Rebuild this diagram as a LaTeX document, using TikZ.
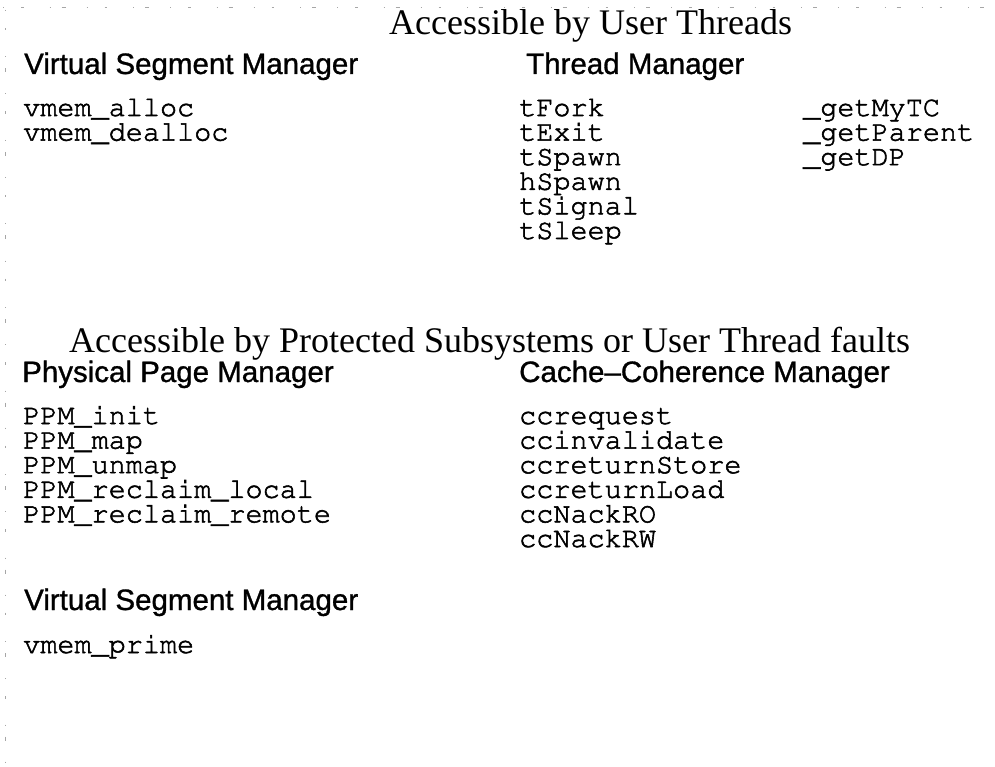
\documentclass[tikz,border=0pt]{standalone}
\usepackage[T1]{fontenc}
\usepackage{fontspec}
\setmainfont{Liberation Serif}
\newfontfamily\headfont{Liberation Sans}
% Courier (URW) for the routine names
\newcommand\routinefont{\fontencoding{T1}\fontfamily{pcr}\fontseries{m}\fontshape{n}\selectfont}
% text filled and outlined with a thin stroke, for slightly heavier strokes
\newcommand\heavytext[2][0.55]{\special{pdf:literal direct 2 Tr #1 w}#2\special{pdf:literal direct 0 Tr}}
\begin{document}
\begin{tikzpicture}[x=1pt,y=-1pt,
  sectitle/.style={anchor=base west, inner sep=0pt, font=\fontsize{36}{40}\selectfont},
  heading/.style={anchor=base west, inner sep=0pt, font=\headfont\fontsize{29.5}{32}\selectfont},
  code/.style={anchor=base west, inner sep=0pt, text height=15pt, text depth=4pt,
    font=\routinefont\fontsize{28.5}{30}\selectfont},
  border/.style={black!35, line width=0.7pt,
    dash pattern=on 1pt off 17pt on 2.5pt off 26pt on 1pt off 11pt on 4pt off 21pt}]
\useasboundingbox (0,0) rectangle (995,767);

% faint broken frame along the top and left edges
\draw[border] (3,7) -- (990,7);
\draw[border] (5,10) -- (5,762);

% --- routines accessible by user threads ---
\node[sectitle] (t1) at (389,35) {Accessible by User Threads};
\node[heading] (vsm1) at (24,74) {\heavytext[0.3]{Virtual Segment Manager}};
\node[heading] (thm) at (526,74) {\heavytext[0.3]{Thread Manager}};

\foreach \s [count=\i] in {vmem\_alloc, vmem\_dealloc}
  \node[code] (vs\i) at (23,{116+(\i-1)*24.6}) {\heavytext{\s}};
\foreach \s [count=\i] in {tFork, tExit, tSpawn, hSpawn, tSignal, tSleep}
  \node[code] (tm\i) at (519,{116+(\i-1)*24.6}) {\heavytext{\s}};
\foreach \s [count=\i] in {\_getMyTC, \_getParent, \_getDP}
  \node[code] (tg\i) at (803,{116+(\i-1)*24.6}) {\heavytext{\s}};

% --- routines accessible by protected subsystems or user thread faults ---
\node[sectitle] (t2) at (69,352) {Accessible by Protected Subsystems or User Thread faults};
\node[heading] (ppm) at (22,382) {\heavytext[0.3]{Physical Page Manager}};
\node[heading] (ccm) at (519,382) {\heavytext[0.3]{Cache–Coherence Manager}};

\foreach \s [count=\i] in {PPM\_init, PPM\_map, PPM\_unmap, PPM\_reclaim\_local, PPM\_reclaim\_remote}
  \node[code] (pp\i) at (23,{424+(\i-1)*24.6}) {\heavytext{\s}};
\foreach \s [count=\i] in {ccrequest, ccinvalidate, ccreturnStore, ccreturnLoad, ccNackRO, ccNackRW}
  \node[code] (cc\i) at (519,{424+(\i-1)*24.6}) {\heavytext{\s}};

\node[heading] (vsm2) at (24,610) {\heavytext[0.3]{Virtual Segment Manager}};
\node[code] (vp) at (23,653) {\heavytext{vmem\_prime}};
\end{tikzpicture}
\end{document}
